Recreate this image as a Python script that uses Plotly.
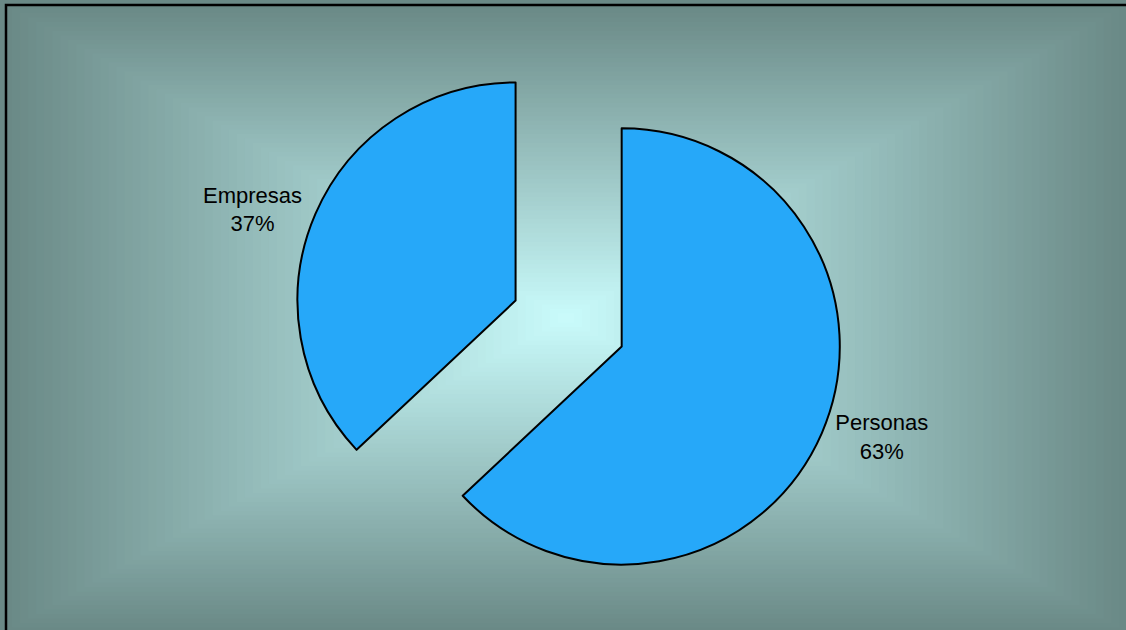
import plotly.graph_objects as go

# ---- data ----
labels = ["Personas", "Empresas"]
values = [63, 37]

# ---- style ----
W, H = 1126, 630
slice_colors = ["#26a8f9", "#26a8f9"]
center_rgb = (202, 252, 252)
edge_rgb = (106, 137, 134)

fig = go.Figure(
    go.Pie(
        labels=labels,
        values=values,
        sort=False,
        direction="clockwise",
        rotation=0,
        pull=[0.265, 0.265],
        marker=dict(colors=slice_colors, line=dict(color="black", width=2)),
        textinfo="label+percent",
        textposition="outside",
        textfont=dict(family="Liberation Sans, Arial", size=22, color="black"),
        domain=dict(x=[0.2, 0.81], y=[0.0486, 0.9245]),
        automargin=False,
        showlegend=False,
        hoverinfo="none",
    )
)

# rectangular "from center" gradient background built from concentric rects
shapes = []
cx, cy = 566, 318
hw, hh = 562, 314
N = 70
for i in range(N):
    d = 1 - i / N
    c = tuple(round(center_rgb[k] + (edge_rgb[k] - center_rgb[k]) * d) for k in range(3))
    x0 = (cx - hw * d) / W
    x1 = (cx + hw * d) / W
    y0 = 1 - (cy + hh * d) / H
    y1 = 1 - (cy - hh * d) / H
    shapes.append(dict(type="rect", xref="paper", yref="paper", x0=x0, x1=x1, y0=y0, y1=y1,
                       fillcolor="rgb(%d,%d,%d)" % c, line=dict(width=0), layer="below"))

# outer border
shapes.append(dict(type="rect", xref="paper", yref="paper", x0=6 / W, x1=1.01, y0=-0.01, y1=1 - 5 / H,
                   line=dict(color="black", width=2.5), fillcolor="rgba(0,0,0,0)", layer="above"))

fig.update_layout(
    width=W,
    height=H,
    autosize=False,
    margin=dict(l=0, r=0, t=0, b=0, pad=0, autoexpand=False),
    paper_bgcolor="rgb(106,137,134)",
    plot_bgcolor="rgba(0,0,0,0)",
    shapes=shapes,
)

fig.write_html(
    "out.html",
    config={"displayModeBar": False},
    post_script="document.body.style.margin='0';document.body.style.overflow='hidden';",
)
